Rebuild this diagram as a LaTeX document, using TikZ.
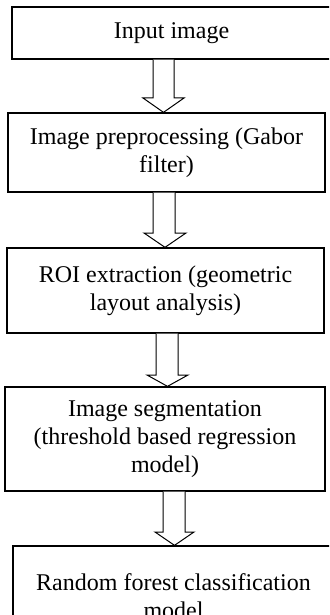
\documentclass[tikz,border=0pt]{standalone}
\usepackage{fontspec}
\setmainfont{Liberation Serif}
\begin{document}
\begin{tikzpicture}[x=1pt,y=-1pt,
  stepbox/.style={draw=black,line width=1.3pt,rectangle,inner sep=0pt,align=center,
    font=\fontsize{24}{28}\selectfont},
  hollow/.style={draw=black,line width=1pt,fill=white,line join=miter}]
\useasboundingbox (0,0) rectangle (329,615);
\clip (0,0) rectangle (329,615);
\node[stepbox,minimum width=319pt,minimum height=52pt] (b1) at (171.5,33) {Input image};
\node[stepbox,minimum width=317pt,minimum height=79pt] (b2) at (166.5,152.5) {Image preprocessing (Gabor\\filter)};
\node[stepbox,minimum width=317pt,minimum height=85pt] (b3) at (165.5,290.5) {ROI extraction (geometric\\layout analysis)};
\node[stepbox,minimum width=320pt,minimum height=104pt] (b4) at (165,439) {Image segmentation\\(threshold based regression\\model)};
\node[stepbox,minimum width=321pt,minimum height=100pt] (b5) at (173.5,596) {Random forest classification\\model};
% block arrows
\draw[hollow] (153,0 |- b1.south) -- (153,98) -- (143,98) -- (163.5,0 |- b2.north) -- (184,98) -- (174,98) -- (174,0 |- b1.south);
\draw[hollow] (153,0 |- b2.south) -- (153,233) -- (144,233) -- (165,0 |- b3.north) -- (186,233) -- (175,233) -- (175,0 |- b2.south);
\draw[hollow] (156,0 |- b3.south) -- (156,375) -- (147,375) -- (167.5,0 |- b4.north) -- (188,375) -- (178,375) -- (178,0 |- b3.south);
\draw[hollow] (163,0 |- b4.south) -- (163,532) -- (155,532) -- (174.5,0 |- b5.north) -- (194,532) -- (185,532) -- (185,0 |- b4.south);
\end{tikzpicture}
\end{document}
